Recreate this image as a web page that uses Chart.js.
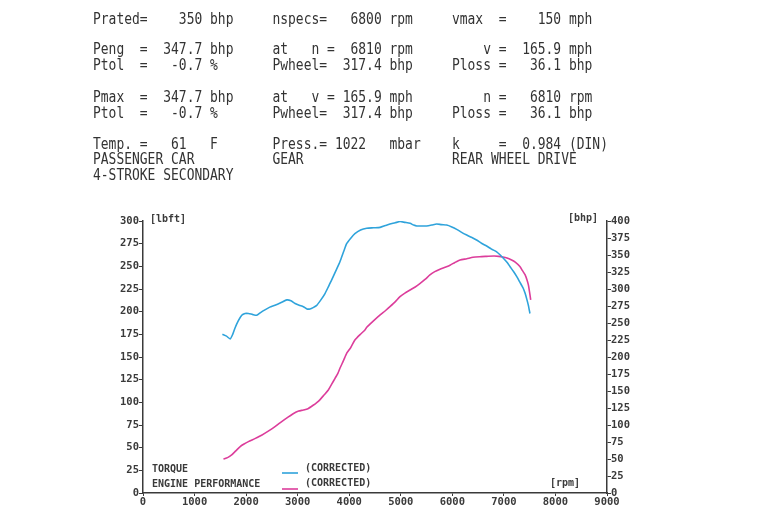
<!DOCTYPE html>
<html>
<head>
<meta charset="utf-8">
<script src="https://cdn.jsdelivr.net/npm/chart.js@4.4.1/dist/chart.umd.min.js"></script>
<style>
  html, body { margin: 0; padding: 0; background: #fff; }
  #wrap { position: relative; width: 768px; height: 512px; overflow: hidden; background: #fff; }
  #chart { position: absolute; left: 0; top: 0; }
  .hdr {
    position: absolute; left: 93px; white-space: pre;
    font-family: "DejaVu Sans Mono", monospace; font-size: 15px; line-height: 16px;
    color: #333; transform: scaleX(0.864); transform-origin: 0 0;
  }
</style>
</head>
<body>
<div id="wrap">
  <canvas id="chart" width="768" height="512"></canvas>
</div>
<script>
// header block of the dyno sheet (three columns)
const headerCol1 = ["Prated=    350 bhp", "Peng  =  347.7 bhp", "Ptol  =   -0.7 %", "Pmax  =  347.7 bhp", "Ptol  =   -0.7 %", "Temp. =   61   F", "PASSENGER CAR", "4-STROKE SECONDARY"];
const headerCol2 = ["nspecs=   6800 rpm", "at   n =  6810 rpm", "Pwheel=  317.4 bhp", "at   v = 165.9 mph", "Pwheel=  317.4 bhp", "Press.= 1022   mbar", "GEAR", ""];
const headerCol3 = ["vmax  =    150 mph", "    v =  165.9 mph", "Ploss =   36.1 bhp", "    n =   6810 rpm", "Ploss =   36.1 bhp", "k     =  0.984 (DIN)", "REAR WHEEL DRIVE", ""];
const headerRowY = [20, 50, 66, 98, 114, 145, 160, 176];

// tick labels
const rpmTicks = [0, 1000, 2000, 3000, 4000, 5000, 6000, 7000, 8000, 9000];
const lbftTicks = [0, 25, 50, 75, 100, 125, 150, 175, 200, 225, 250, 275, 300];
const bhpTicks = [0, 25, 50, 75, 100, 125, 150, 175, 200, 225, 250, 275, 300, 325, 350, 375, 400];

// torque curve (corrected), lbft
const torqueRpm = [1540, 1620, 1690, 1740, 1785, 1850, 1915, 1980, 2045, 2120, 2205, 2280, 2365, 2460, 2560, 2680, 2790, 2870, 2950, 3030, 3110, 3180, 3240, 3300, 3370, 3450, 3530, 3600, 3660, 3740, 3820, 3890, 3950, 4030, 4110, 4220, 4340, 4470, 4600, 4700, 4790, 4890, 4985, 5080, 5180, 5250, 5310, 5400, 5500, 5600, 5695, 5790, 5890, 5990, 6085, 6180, 6280, 6370, 6470, 6565, 6665, 6760, 6860, 6930, 6990, 7060, 7120, 7190, 7250, 7310, 7375, 7410, 7440, 7475, 7505];
const torqueLbft = [175, 173, 170, 175, 182, 190, 196, 198, 198, 197, 196, 199, 202, 205, 207, 210, 213, 212, 209, 207, 205.5, 203, 203, 204.5, 207, 213, 220, 228, 235, 245, 255, 266, 275, 281, 286, 290, 292, 292.5, 293, 295, 296.7, 298, 299.5, 298.5, 297.4, 295.5, 294.5, 294.5, 294.5, 295.5, 296.7, 296, 295.6, 293.5, 290.8, 287.5, 284.5, 282, 279, 275.5, 272.4, 269, 266, 262.5, 259, 254.5, 249.6, 244, 238.6, 232.5, 225.8, 220.5, 214.7, 207, 198];

// engine performance (corrected), bhp
const powerRpm = [1560, 1640, 1720, 1800, 1880, 1960, 2045, 2170, 2300, 2430, 2560, 2690, 2820, 2920, 3020, 3110, 3200, 3300, 3370, 3430, 3510, 3595, 3660, 3725, 3780, 3820, 3890, 3950, 4030, 4110, 4210, 4305, 4340, 4470, 4600, 4700, 4790, 4890, 4985, 5080, 5180, 5280, 5370, 5470, 5565, 5660, 5760, 5860, 5955, 6050, 6150, 6280, 6400, 6530, 6665, 6810, 6900, 6980, 7060, 7140, 7220, 7310, 7360, 7410, 7450, 7475, 7495, 7520];
const powerBhp = [50, 52, 56, 62, 68, 72, 75.5, 80, 85, 91, 97.5, 105, 112, 117, 120.5, 122, 124, 129, 133, 137, 144, 151.5, 160, 168.7, 176, 183.4, 195, 205.4, 214, 225, 233, 239.7, 243.7, 253, 261.8, 268, 274, 281, 288.7, 294, 298.5, 303, 308, 314, 320.6, 325.5, 329, 332, 335, 339, 342.6, 344.5, 346.6, 347.5, 348, 348.5, 348, 347, 345.5, 343, 339.5, 333, 327, 321, 313, 306, 297, 284];

const torqueColor = "#2fa3db";
const powerColor = "#dc3d9b";
const inkColor = "#3a3a3a";

// header text as real text
const wrap = document.getElementById("wrap");
headerRowY.forEach((y, i) => {
  const div = document.createElement("div");
  div.className = "hdr";
  div.style.top = (y - 9) + "px";
  div.textContent = headerCol1[i].padEnd(23) + headerCol2[i].padEnd(23) + headerCol3[i];
  wrap.appendChild(div);
});

const tickFont = { family: "DejaVu Sans Mono", size: 10.5, weight: "bold" };
const plainLabel = v => String(v);

// unit labels and the printed legend at the bottom left
const sheetLabels = {
  id: "sheetLabels",
  afterDraw(chart) {
    const ctx = chart.ctx;
    ctx.save();
    ctx.fillStyle = inkColor;
    ctx.textBaseline = "middle";
    ctx.font = "bold 10px 'DejaVu Sans Mono'";
    ctx.fillText("[lbft]", 150, 219);
    ctx.fillText("[bhp]", 568, 218);
    ctx.fillText("[rpm]", 550, 483);
    ctx.fillText("TORQUE", 152, 469);
    ctx.fillText("ENGINE PERFORMANCE", 152, 484);
    ctx.fillText("(CORRECTED)", 305, 468);
    ctx.fillText("(CORRECTED)", 305, 483);
    ctx.lineWidth = 1.6;
    ctx.strokeStyle = torqueColor;
    ctx.beginPath(); ctx.moveTo(282, 473); ctx.lineTo(298, 473); ctx.stroke();
    ctx.strokeStyle = powerColor;
    ctx.beginPath(); ctx.moveTo(282, 489); ctx.lineTo(298, 489); ctx.stroke();
    ctx.restore();
  }
};

new Chart(document.getElementById("chart"), {
  type: "line",
  data: {
    datasets: [
      {
        label: "TORQUE (CORRECTED)",
        data: torqueRpm.map((r, i) => ({ x: r, y: torqueLbft[i] })),
        borderColor: torqueColor,
        borderWidth: 1.6,
        pointRadius: 0,
        tension: 0.2,
        yAxisID: "y"
      },
      {
        label: "ENGINE PERFORMANCE (CORRECTED)",
        data: powerRpm.map((r, i) => ({ x: r, y: powerBhp[i] })),
        borderColor: powerColor,
        borderWidth: 1.6,
        pointRadius: 0,
        tension: 0.2,
        yAxisID: "y1"
      }
    ]
  },
  options: {
    responsive: false,
    animation: false,
    layout: { padding: { left: 103, right: 121, top: 221, bottom: 1 } },
    plugins: { legend: { display: false }, tooltip: { enabled: false } },
    scales: {
      x: {
        type: "linear", min: 0, max: 9000,
        afterBuildTicks: s => { s.ticks = rpmTicks.map(v => ({ value: v })); },
        afterFit: s => { s.height = 18; },
        border: { color: inkColor, width: 1.5 },
        grid: { drawOnChartArea: false, tickLength: 3, color: inkColor },
        ticks: { color: inkColor, font: tickFont, padding: 0, maxRotation: 0, callback: plainLabel }
      },
      y: {
        position: "left", min: 0, max: 300,
        afterBuildTicks: s => { s.ticks = lbftTicks.map(v => ({ value: v })); },
        afterFit: s => { s.width = 40; },
        border: { color: inkColor, width: 1.5 },
        grid: { drawOnChartArea: false, tickLength: 4, color: inkColor },
        ticks: { color: inkColor, font: tickFont, padding: 0, callback: plainLabel }
      },
      y1: {
        position: "right", min: 0, max: 400,
        afterBuildTicks: s => { s.ticks = bhpTicks.map(v => ({ value: v })); },
        afterFit: s => { s.width = 40; },
        border: { color: inkColor, width: 1.5 },
        grid: { drawOnChartArea: false, tickLength: 4, color: inkColor },
        ticks: { color: inkColor, font: tickFont, padding: 0, callback: plainLabel }
      }
    }
  },
  plugins: [sheetLabels]
});
</script>
</body>
</html>
